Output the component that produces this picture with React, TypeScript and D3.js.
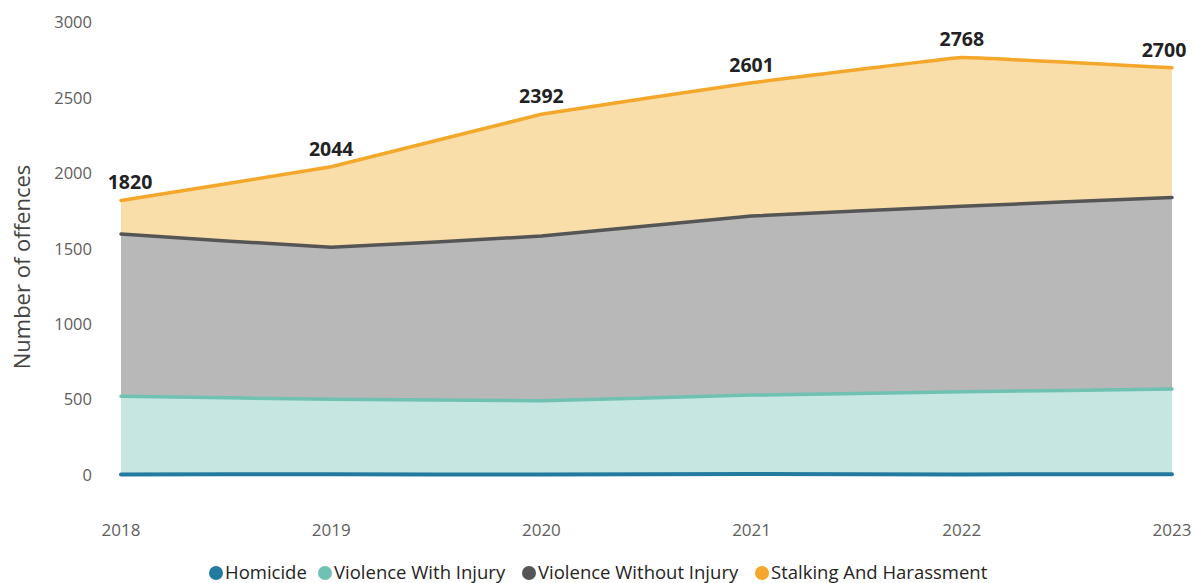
import React from 'react';
import * as d3 from 'd3';

const years = ['2018', '2019', '2020', '2021', '2022', '2023'];
const homicide = [4, 5, 3, 6, 4, 5];
const violenceWithInjury = [518, 497, 490, 524, 548, 565];
const violenceWithoutInjury = [1076, 1008, 1092, 1187, 1230, 1271];
const stalking = [222, 534, 807, 884, 986, 859];
const totals = [1820, 2044, 2392, 2601, 2768, 2700];
const yTicks = [0, 500, 1000, 1500, 2000, 2500, 3000];

const seriesNames = ['Homicide', 'Violence With Injury', 'Violence Without Injury', 'Stalking And Harassment'];
const lineColors = ['#237a9f', '#6fc1b2', '#555555', '#f4a72a'];
const fillColors = ['#237a9f', '#c5e6e1', '#b8b8b8', '#f9dea9'];

const W = 1195,
  H = 583;

const App = () => {
  const rows = years.map((y, i) => ({
    year: y,
    s0: homicide[i],
    s1: violenceWithInjury[i],
    s2: violenceWithoutInjury[i],
    s3: stalking[i],
  }));
  const stacked = d3.stack().keys(['s0', 's1', 's2', 's3'])(rows as any);

  const x = d3.scalePoint().domain(years).range([121, 1172]);
  const y = d3.scaleLinear().domain([0, 3000]).range([475, 22.6]);

  // nearly straight segments, just softened at the joints
  const curve = d3.curveCardinal.tension(0.85);
  const area = d3
    .area<any>()
    .x((d) => x(d.data.year)!)
    .y0((d) => y(d[0]))
    .y1((d) => y(d[1]))
    .curve(curve);
  const line = d3
    .line<any>()
    .x((d) => x(d.data.year)!)
    .y((d) => y(d[1]))
    .curve(curve);

  const font = "'Segoe UI', 'Open Sans', 'DejaVu Sans', sans-serif";
  const legendX = [216, 325, 529, 762];

  return (
    <svg width={W} height={H} style={{ position: 'absolute', left: 0, top: 0 }} fontFamily={font}>
      <rect width={W} height={H} fill="#fff" />
      {yTicks.map((t) => (
        <text key={t} x={92} y={y(t)} dy="0.35em" textAnchor="end" fontSize={16.5} fill="#605e5c">
          {t}
        </text>
      ))}
      <text
        transform={`translate(30,267) rotate(-90)`}
        textAnchor="middle"
        fontSize={22}
        fill="#444"
      >
        Number of offences
      </text>
      {years.map((yr) => (
        <text key={yr} x={x(yr)} y={530} dy="0.35em" textAnchor="middle" fontSize={17} fill="#605e5c">
          {yr}
        </text>
      ))}
      {stacked.map((s, i) => (
        <path key={'a' + i} d={area(s as any)!} fill={fillColors[i]} />
      ))}
      {stacked.map((s, i) => (
        <path
          key={'l' + i}
          d={line(s as any)!}
          fill="none"
          stroke={lineColors[i]}
          strokeWidth={i === 0 ? 4 : 3.5}
          strokeLinecap="round"
        />
      ))}
      {years.map((yr, i) => {
        const px = Math.min(x(yr)! + (i === 0 ? 9 : 0), 1164);
        return (
          <text
            key={'t' + yr}
            x={px}
            y={y(totals[i]) - 18}
            dy="0.35em"
            textAnchor="middle"
            fontSize={19.5}
            fontWeight="bold"
            fill="#222"
          >
            {totals[i]}
          </text>
        );
      })}
      {seriesNames.map((n, i) => (
        <g key={n}>
          <circle cx={legendX[i]} cy={573} r={7} fill={lineColors[i]} />
          <text x={legendX[i] + 9} y={573} dy="0.35em" fontSize={18.5} fill="#252423">
            {n}
          </text>
        </g>
      ))}
    </svg>
  );
};

export default App;
